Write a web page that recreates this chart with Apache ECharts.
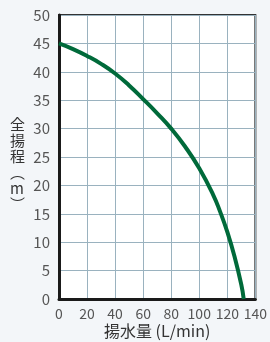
<!DOCTYPE html>
<html><head><meta charset="utf-8">
<script src="https://cdn.jsdelivr.net/npm/echarts@6/dist/echarts.min.js"></script>
<style>html,body{margin:0;padding:0;background:#f3f6f9;}#c{width:270px;height:342px;}</style>
</head><body><div id="c"></div>
<script>
const flowValues = [0, 10, 20, 30, 40, 50, 60, 70, 80, 90, 100, 110, 115, 120, 125, 130, 131.7];
const headValues = [45, 44.0, 42.8, 41.4, 39.7, 37.6, 35.2, 32.7, 30.0, 26.8, 23.0, 18.3, 15.3, 11.8, 7.6, 2.5, 0];
const xTicks = [0, 20, 40, 60, 80, 100, 120, 140];
const yTicks = [0, 5, 10, 15, 20, 25, 30, 35, 40, 45, 50];
const xTitle = '揚水量 (L/min)';
const yTitle = '全\n揚\n程\n︵\nm\n︶';

const chart = echarts.init(document.getElementById('c'));
const font = '"Noto Sans CJK JP", "Noto Sans", sans-serif';
chart.setOption({
  backgroundColor: '#f3f6f9',
  animation: false,
  grid: { left: 59, right: 12, top: 15, bottom: 43, show: true, backgroundColor: '#ffffff', borderColor: '#333', borderWidth: 2 },
  xAxis: {
    type: 'value', min: xTicks[0], max: xTicks[xTicks.length - 1], interval: 20,
    axisLine: { show: true, onZero: false, lineStyle: { color: '#1a1a1a', width: 3 } },
    axisTick: { show: false },
    splitLine: { show: true, lineStyle: { color: '#9ab2bf', width: 1 } },
    axisLabel: { color: '#555', fontSize: 14, margin: 8, fontFamily: font, formatter: v => xTicks.includes(v) ? String(v) : '' }
  },
  yAxis: {
    type: 'value', min: yTicks[0], max: yTicks[yTicks.length - 1], interval: 5,
    axisLine: { show: true, onZero: false, lineStyle: { color: '#1a1a1a', width: 3 } },
    axisTick: { show: false },
    splitLine: { show: true, lineStyle: { color: '#9ab2bf', width: 1 } },
    axisLabel: { color: '#555', fontSize: 15, margin: 9, fontFamily: font, formatter: v => yTicks.includes(v) ? String(v) : '' }
  },
  graphic: [
    { type: 'text', left: 104, top: 323, style: { text: xTitle, fill: '#333', font: '16px ' + font } },
    { type: 'text', left: 10, top: 116, style: { text: yTitle, fill: '#333', font: '15px ' + font, lineHeight: 16, align: 'center' } }
  ],
  series: [{
    type: 'line', smooth: true, showSymbol: false,
    data: flowValues.map((x, i) => [x, headValues[i]]),
    lineStyle: { color: '#006a3a', width: 4 }, itemStyle: { color: '#006a3a' }
  }]
});
</script></body></html>
